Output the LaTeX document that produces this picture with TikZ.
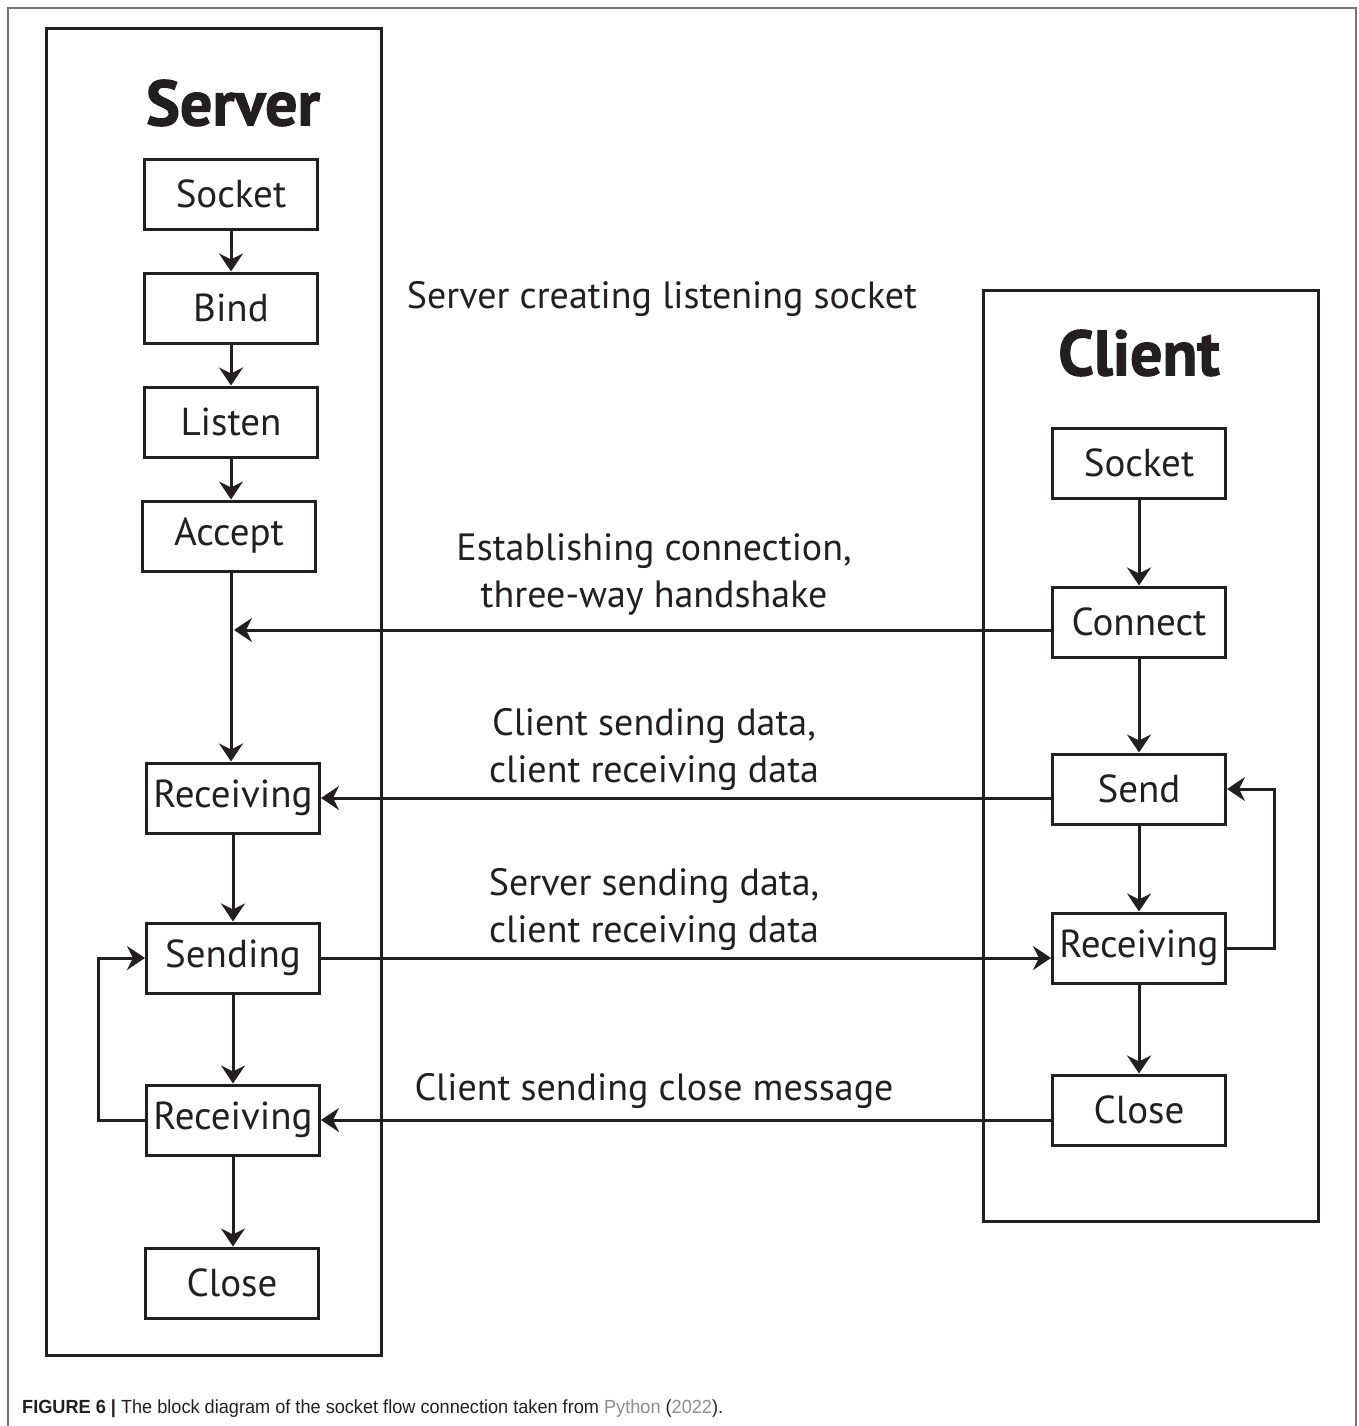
\documentclass[tikz,border=0pt]{standalone}
\usepackage{fontspec}
\setmainfont{PT Sans}
\newfontfamily\titlefont[BoldFeatures={FakeBold=1.6}]{PT Sans}
\newfontfamily\capfont[FakeStretch=0.955]{Liberation Sans}
\usetikzlibrary{arrows.meta}
\definecolor{ink}{HTML}{231F20}
\definecolor{framegray}{gray}{0.45}
\definecolor{linkgray}{gray}{0.55}
\tikzset{
  stepbox/.style={draw=ink, line width=3pt, minimum width=173pt, minimum height=70pt,
    inner sep=0pt, text=ink, font=\fontsize{39}{46}\selectfont},
  panel/.style={draw=ink, line width=3pt},
  title/.style={text=ink, font=\titlefont\bfseries\fontsize{64}{70}\selectfont},
  note/.style={text=ink, align=center, font=\fontsize{38}{47}\selectfont},
  flow/.style={draw=ink, line width=3pt, -{Stealth[length=18pt, width=24pt, inset=6pt]}},
}
\begin{document}
\begin{tikzpicture}[x=1pt, y=-1pt]
\useasboundingbox (0,0) rectangle (1358,1426);
% page frame
\draw[framegray, line width=1.5pt] (8,1426) -- (8,8) -- (1356,8) -- (1356,1426);

% panels
\draw[panel] (46,29) rectangle (381,1355);
\draw[panel] (983,290) rectangle (1318,1221);
\node[title] (srvtitle) at (233,103) {Server};
\node[title] (clttitle) at (1139,353) {Client};

% server steps
\node[stepbox] (ssock) at (231,194) {Socket};
\node[stepbox] (sbind) at (231,308) {Bind};
\node[stepbox] (slist) at (231,422) {Listen};
\node[stepbox] (sacc)  at (229,536) {Accept};
\node[stepbox] (srec1) at (233,798) {Receiving};
\node[stepbox] (ssend) at (233,958) {Sending};
\node[stepbox] (srec2) at (233,1120) {Receiving};
\node[stepbox] (sclose) at (232,1283) {Close};

% client steps
\node[stepbox] (csock) at (1139,463) {Socket};
\node[stepbox] (ccon)  at (1139,622) {Connect};
\node[stepbox] (csend) at (1139,789) {Send};
\node[stepbox] (crec)  at (1139,948) {Receiving};
\node[stepbox] (cclose) at (1139,1110) {Close};

% server flow (vertical drops)
\draw[flow] (ssock) -- (sbind);
\draw[flow] (sbind) -- (slist);
\draw[flow] (slist.south) -- (slist.south |- sacc.north);
\coordinate (accdown) at (231,571);
\draw[flow] (accdown) -- (accdown |- srec1.north);
\draw[flow] (srec1) -- (ssend);
\draw[flow] (ssend) -- (srec2);
\draw[flow] (srec2.south) -- (srec2.south |- sclose.north);
\draw[flow] (srec2.west) -- ++(-47,0) |- (ssend.west);

% client flow
\draw[flow] (csock) -- (ccon);
\draw[flow] (ccon) -- (csend);
\draw[flow] (csend) -- (crec);
\draw[flow] (crec) -- (cclose);
\draw[flow] (crec.east) -- ++(47,0) |- (csend.east);

% messages between the two sides
\coordinate (hshake) at (234,630);
\draw[flow] (ccon.west |- hshake) -- (hshake);
\draw[flow] (csend.west |- srec1) -- (srec1.east);
\draw[flow] (ssend.east) -- (crec.west |- ssend);
\draw[flow] (cclose.west |- srec2) -- (srec2.east);

% notes
\node[note] (n0) at (662,299) {Server creating listening socket};
\node[note] (n1) at (654,574) {Establishing connection,\\three-way handshake};
\node[note] (n2) at (654,749) {Client sending data,\\client receiving data};
\node[note] (n3) at (654,909) {Server sending data,\\client receiving data};
\node[note] (n4) at (654,1091) {Client sending close message};

% caption
\node[anchor=base west, inner sep=0pt, text=ink, font=\capfont\fontsize{19}{22}\selectfont] (cap) at (22,1413)
  {\textbf{FIGURE 6 |} The block diagram of the socket flow connection taken from \textcolor{linkgray}{Python} (\textcolor{linkgray}{2022}).};
\end{tikzpicture}
\end{document}
